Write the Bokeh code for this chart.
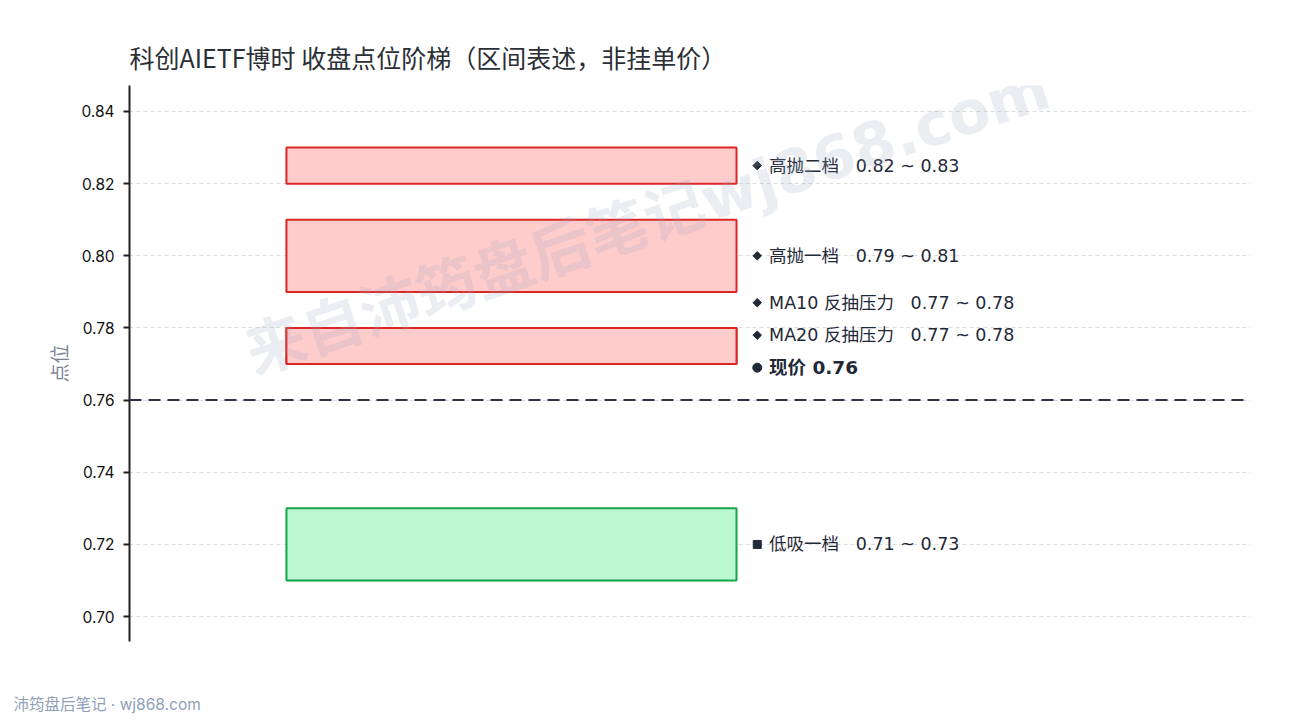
import math
from bokeh.plotting import figure
from bokeh.models import Range1d, Label, FixedTicker, Span, Title, NumeralTickFormatter
from bokeh.embed import file_html
from bokeh.resources import INLINE
from bokeh.core.properties import value

# ---- data ----
zone_names = ["高抛二档", "高抛一档", "MA10 反抽压力", "MA20 反抽压力", "低吸一档"]
zone_low = [0.82, 0.79, 0.77, 0.77, 0.71]
zone_high = [0.83, 0.81, 0.78, 0.78, 0.73]
zone_kind = ["sell", "sell", "sell", "sell", "buy"]
zone_marker = ["diamond", "diamond", "diamond", "diamond", "square"]
label_y = [0.825, 0.80, 0.787, 0.778, 0.72]
current_price = 0.76
current_label_y = 0.769
y_ticks = [0.70, 0.72, 0.74, 0.76, 0.78, 0.80, 0.82, 0.84]

title_text = "科创AIETF博时 收盘点位阶梯（区间表述，非挂单价）"
watermark_text = "来自沛筠盘后笔记wj868.com"
footer_text = "沛筠盘后笔记 · wj868.com"
y_label = "点位"

FONT = "Inter, Noto Sans CJK SC"
LBL_FONT = "DejaVu Sans, Noto Sans CJK SC"
CJK = "Noto Sans CJK SC"

fill_colors = {"sell": "#ffcccc", "buy": "#bbf7d0"}
line_colors = {"sell": "#dc2626", "buy": "#16a34a"}

p = figure(
    width=1274, height=720,
    x_range=Range1d(0, 100), y_range=Range1d(0.6931, 0.8472),
    output_backend="svg", toolbar_location=None,
    min_border_left=129, min_border_right=24, min_border_top=85, min_border_bottom=79,
    frame_width=1121, frame_height=556,
)
p.outline_line_color = None
p.xaxis.visible = False
p.xgrid.visible = False

p.yaxis.ticker = FixedTicker(ticks=y_ticks)
p.yaxis.formatter = NumeralTickFormatter(format="0.00")
p.yaxis.major_label_text_font = FONT
p.yaxis.major_label_text_font_size = "15.5px"
p.yaxis.major_label_text_color = "#111111"
p.yaxis.major_label_standoff = 9
p.yaxis.axis_line_color = "#222222"
p.yaxis.axis_line_width = 2
p.yaxis.major_tick_line_color = "#222222"
p.yaxis.major_tick_line_width = 2
p.yaxis.major_tick_in = 0
p.yaxis.major_tick_out = 6
p.yaxis.minor_tick_line_color = None
p.yaxis.axis_label = y_label
p.yaxis.axis_label_text_font = CJK
p.yaxis.axis_label_text_font_style = "normal"
p.yaxis.axis_label_text_font_size = "19px"
p.yaxis.axis_label_text_color = "#7b8494"
p.yaxis.axis_label_standoff = 6
p.ygrid.grid_line_color = "#dddddd"
p.ygrid.grid_line_dash = "4 3"
p.ygrid.grid_line_width = 1

# watermark
p.add_layout(Label(x=518, y=421, x_units="screen", y_units="screen", text=watermark_text,
                   text_font=LBL_FONT, text_font_size="60px", text_font_style="bold",
                   text_color="#94a3b8", text_alpha=0.2, angle=0.325,
                   text_align="center", text_baseline="middle"))

# zones
BAR_L, BAR_R, MK_X, LBL_X = 14.0, 54.15, 56.0, 57.05
gap = "\u00a0\u00a0\u00a0"
for name, lo, hi, kind, mk, ly in zip(zone_names, zone_low, zone_high, zone_kind, zone_marker, label_y):
    p.quad(left=BAR_L, right=BAR_R, bottom=lo, top=hi,
           fill_color=fill_colors[kind], line_color=line_colors[kind], line_width=2)
    if mk == "diamond":
        p.scatter(x=[MK_X], y=[ly], marker="square", size=6, angle=math.pi / 4,
                  fill_color="#1f2937", line_color="#1f2937")
    else:
        p.scatter(x=[MK_X], y=[ly], marker="square", size=8,
                  fill_color="#1f2937", line_color="#1f2937")
    p.text(x=[LBL_X], y=[ly], text=[f"{name}{gap}{lo:.2f} ~ {hi:.2f}"],
           text_font=value(LBL_FONT), text_font_size="17.5px", text_color="#1f2937",
           text_baseline="middle", text_align="left")

# current price
p.add_layout(Span(location=current_price, dimension="width", line_color="#2d3340",
                  line_width=2, line_dash="12 7"))
p.scatter(x=[MK_X], y=[current_label_y], marker="circle", size=9,
          fill_color="#1f2937", line_color="#1f2937")
p.text(x=[LBL_X], y=[current_label_y], text=[f"现价 {current_price:.2f}"],
       text_font=value(LBL_FONT), text_font_size="18.5px", text_font_style="bold",
       text_color="#1f2937", text_baseline="middle", text_align="left")

# title and footer
p.add_layout(Title(text=title_text, text_font=CJK, text_font_size="25px",
                   text_font_style="normal", text_color="#2b2f36", align="left",
                   standoff=21), "above")
p.add_layout(Title(text=footer_text, text_font=FONT, text_font_size="15.5px",
                   text_font_style="normal", text_color="#8fa0b8", align="left",
                   offset=-116, standoff=103), "below")

open("out.html", "w").write(file_html(p, INLINE))
